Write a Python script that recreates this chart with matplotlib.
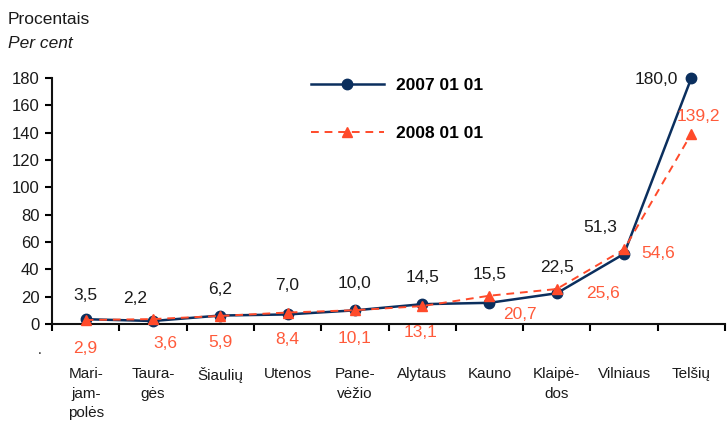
import matplotlib
matplotlib.use("Agg")
import matplotlib.pyplot as plt
import numpy as np

plt.rcParams['font.family'] = ['Liberation Sans', 'DejaVu Sans']

categories = ["Mari-\njam-\npolės", "Taura-\ngės", "Šiaulių", "Utenos", "Pane-\nvėžio",
              "Alytaus", "Kauno", "Klaipė-\ndos", "Vilniaus", "Telšių"]
values_2007 = [3.5, 2.2, 6.2, 7.0, 10.0, 14.5, 15.5, 22.5, 51.3, 180.0]
values_2008 = [2.9, 3.6, 5.9, 8.4, 10.1, 13.1, 20.7, 25.6, 54.6, 139.2]
series_labels = ["2007 01 01", "2008 01 01"]
y_ticks = [0, 20, 40, 60, 80, 100, 120, 140, 160, 180]

# label offsets (pixels) relative to each point
off_2007 = [(0, 24), (-18, 22), (0, 26), (0, 29), (0, 27), (0, 27), (0, 28), (0, 26), (-24, 26), (-35, -2)]
off_2008 = [(0, -28), (12, -24), (0, -27), (0, -27), (0, -28), (-2, -26), (30, -19), (46, -4), (34, -4), (7, 17)]

NAVY = "#0b2f5e"
ORANGE = "#ff4a2a"
LBL_ORANGE = "#ff5a3a"

fig = plt.figure(figsize=(7.27, 4.22), dpi=100)
ax = fig.add_axes([52/727, 1-324/422, (725-52)/727, (324-78)/422])

x = np.arange(len(categories)) + 0.5
l1, = ax.plot(x, values_2007, color=NAVY, lw=1.8, marker='o', ms=7.5, clip_on=False, zorder=3)
l2, = ax.plot(x, values_2008, color=ORANGE, lw=1.4, ls=(0, (4, 3)), marker='^', ms=7.5,
              clip_on=False, zorder=4)

fmt = lambda v: f"{v:.1f}".replace('.', ',')
for xi, v, (dx, dy) in zip(x, values_2007, off_2007):
    ax.annotate(fmt(v), (xi, v), xytext=(dx, dy), textcoords='offset pixels',
                ha='center', va='center', fontsize=12.5, color='#1a1a1a', annotation_clip=False)
for xi, v, (dx, dy) in zip(x, values_2008, off_2008):
    ax.annotate(fmt(v), (xi, v), xytext=(dx, dy), textcoords='offset pixels',
                ha='center', va='center', fontsize=12.5, color=LBL_ORANGE, annotation_clip=False)

ax.set_xlim(0, len(categories))
ax.set_ylim(0, 180)
ax.set_yticks(y_ticks)
ax.set_yticklabels([str(t) for t in y_ticks], fontsize=12, color='#1a1a1a')
ax.set_xticks(np.arange(len(categories) + 1))
ax.set_xticklabels([])
ax.set_xticks(x, minor=True)
ax.set_xticklabels(categories, minor=True, fontsize=11, color='#1a1a1a', va='top',
                   linespacing=1.5)
ax.tick_params(axis='x', which='minor', length=0, pad=31)
ax.tick_params(axis='x', which='major', length=5, width=1.5, direction='out')
ax.tick_params(axis='y', length=5, width=1.5, direction='out', pad=4)
for s in ['top', 'right']:
    ax.spines[s].set_visible(False)
for s in ['left', 'bottom']:
    ax.spines[s].set_linewidth(1.5)
    ax.spines[s].set_color('#111111')

leg = ax.legend([l1, l2], series_labels, loc='upper left', bbox_to_anchor=(295/727, 1-62/422),
                bbox_transform=fig.transFigure, frameon=False, handlelength=4.2,
                labelspacing=1.9, handletextpad=0.7, prop={'weight': 'bold', 'size': 12.5})

fig.text(8/727, 1-20/422, "Procentais", fontsize=12.5, color='#1a1a1a', va='center', ha='left')
fig.text(8/727, 1-43/422, "Per cent", fontsize=12.5, style='italic', color='#1a1a1a', va='center', ha='left')
fig.text(40/727, 1-350/422, ".", fontsize=10, color='#1a1a1a', va='center', ha='center')

fig.savefig("out.png", dpi=100)
